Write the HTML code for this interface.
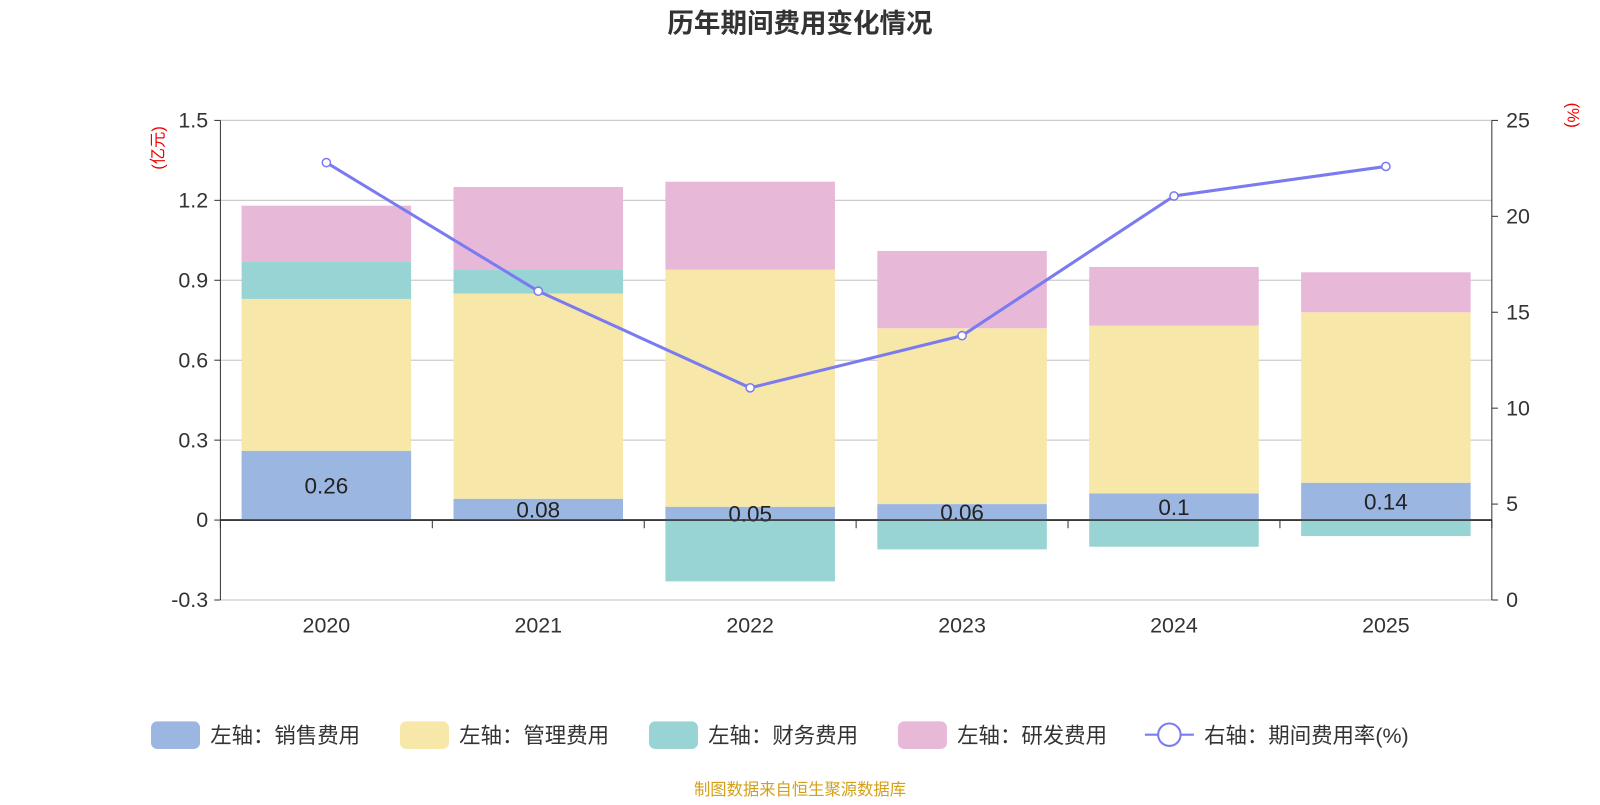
<!DOCTYPE html>
<html><head><meta charset="utf-8"><style>
body{margin:0;background:#fff;font-family:"Liberation Sans","Noto Sans CJK SC",sans-serif}
svg text{font-family:"Liberation Sans","Noto Sans CJK SC",sans-serif}
</style></head><body>
<svg id="c" width="1600" height="800" xmlns="http://www.w3.org/2000/svg">
<g transform="scale(1.020408)">
<text x="784" y="32" text-anchor="middle" font-size="26" font-weight="bold" fill="#333">历年期间费用变化情况</text>
<text transform="translate(160,145) rotate(-90)" text-anchor="middle" font-size="16" fill="#e00">(亿元)</text>
<text transform="translate(1536,113) rotate(90)" text-anchor="middle" font-size="16" fill="#e00">(%)</text>
<g id="grid"></g><g id="bars"></g><g id="line"></g><g id="legend"></g>
<text x="784" y="779" text-anchor="middle" font-size="16" fill="#d4a017">制图数据来自恒生聚源数据库</text>
</g>
</svg>
<script>
const categories=["2020","2021","2022","2023","2024","2025"];
const sales=[0.26,0.08,0.05,0.06,0.10,0.14];
const mgmt=[0.57,0.77,0.89,0.66,0.63,0.64];
const finance=[0.14,0.09,-0.23,-0.11,-0.10,-0.06];
const rnd=[0.21,0.31,0.33,0.29,0.22,0.15];
const rate=[22.8,16.1,11.06,13.78,21.06,22.6];
const leftTicks=[-0.3,0,0.3,0.6,0.9,1.2,1.5];
const rightTicks=[0,5,10,15,20,25];
const NS="http://www.w3.org/2000/svg";
const X0=216,X1=1462,T=118,B=588;
const yL=v=>T+(1.5-v)/1.8*(B-T);
const yR=v=>B-v/25*(B-T);
const bw=(X1-X0)/categories.length;
const xc=i=>X0+bw*(i+0.5);
function mk(p,tag,a){const e=document.createElementNS(NS,tag);for(const k in a)e.setAttribute(k,a[k]);p.appendChild(e);return e;}
const g=document.getElementById('grid');
leftTicks.forEach(v=>{
 const l=mk(g,'line',{x1:X0,x2:X1,y1:yL(v),y2:yL(v),stroke:v===0?'#333':'#ccc','stroke-width':v===0?1.5:1.2});
 
 
 const t=mk(g,'text',{x:X0-12,y:yL(v)+7,'text-anchor':'end','font-size':21,fill:'#333'});t.textContent=String(v);
 
 
 mk(g,'line',{x1:X0-6,x2:X0,y1:yL(v),y2:yL(v),stroke:'#333'});
});
mk(g,'line',{x1:X0,x2:X0,y1:T,y2:B,stroke:'#333'});
mk(g,'line',{x1:X1,x2:X1,y1:T,y2:B,stroke:'#333'});
rightTicks.forEach(v=>{
 mk(g,'line',{x1:X1,x2:X1+6,y1:yR(v),y2:yR(v),stroke:'#333'});
 const t=mk(g,'text',{x:X1+14,y:yR(v)+7,'font-size':21,fill:'#333'});t.textContent=String(v);
 
 
});
for(let i=0;i<=categories.length;i++)mk(g,'line',{x1:X0+bw*i,x2:X0+bw*i,y1:yL(0),y2:yL(0)+8,stroke:'#333'});
categories.forEach((c,i)=>{const t=mk(g,'text',{x:xc(i),y:620,'text-anchor':'middle','font-size':21,fill:'#333'});t.textContent=c;
 
 });
const colors=['#9bb6e0','#f7e7a9','#98d4d4','#e7b8d8'];
const series=[sales,mgmt,finance,rnd];
const bg=document.getElementById('bars');
const bwid=bw*0.8;
categories.forEach((c,i)=>{
 let pos=0,neg=0;
 series.forEach((s,k)=>{
  const v=s[i];let a,b;
  if(v>=0){a=pos;b=pos+v;pos=b;}else{a=neg;b=neg+v;neg=b;}
  const r=mk(bg,'rect',{x:xc(i)-bwid/2,y:Math.min(yL(a),yL(b)),width:bwid,height:Math.abs(yL(a)-yL(b)),fill:colors[k]});
  
  
 });
 const t=mk(bg,'text',{x:xc(i),y:(yL(0)+yL(sales[i]))/2+8,'text-anchor':'middle','font-size':22,fill:'#222'});t.textContent=String(sales[i]);
 
 
});
mk(bg,'line',{x1:X0,x2:X1,y1:yL(0),y2:yL(0),stroke:'#333','stroke-width':1.5});
const lg=document.getElementById('line');
const pl=mk(lg,'polyline',{points:rate.map((v,i)=>xc(i)+','+yR(v)).join(' '),fill:'none',stroke:'#7b7bf0','stroke-width':3});


rate.forEach((v,i)=>{const p=mk(lg,'circle',{cx:xc(i),cy:yR(v),r:4,fill:'#fff',stroke:'#7b7bf0','stroke-width':1.5});
 
 });
const L=document.getElementById('legend');
const names=['左轴：销售费用','左轴：管理费用','左轴：财务费用','左轴：研发费用'];
const lx=[148,392,636,880];
names.forEach((n,k)=>{
 const r=mk(L,'rect',{x:lx[k],y:707,width:48,height:27,rx:6,fill:colors[k]});
 
 
 const t=mk(L,'text',{x:lx[k]+58,y:728,'font-size':21,fill:'#333'});t.textContent=n;
 
 
});
mk(L,'line',{x1:1122,x2:1170,y1:720,y2:720,stroke:'#7b7bf0','stroke-width':2});
mk(L,'circle',{cx:1146,cy:720,r:11,fill:'#fff',stroke:'#7b7bf0','stroke-width':2});
const lt=mk(L,'text',{x:1180,y:728,'font-size':21,fill:'#333'});lt.textContent='右轴：期间费用率(%)';


</script>
</body></html>
